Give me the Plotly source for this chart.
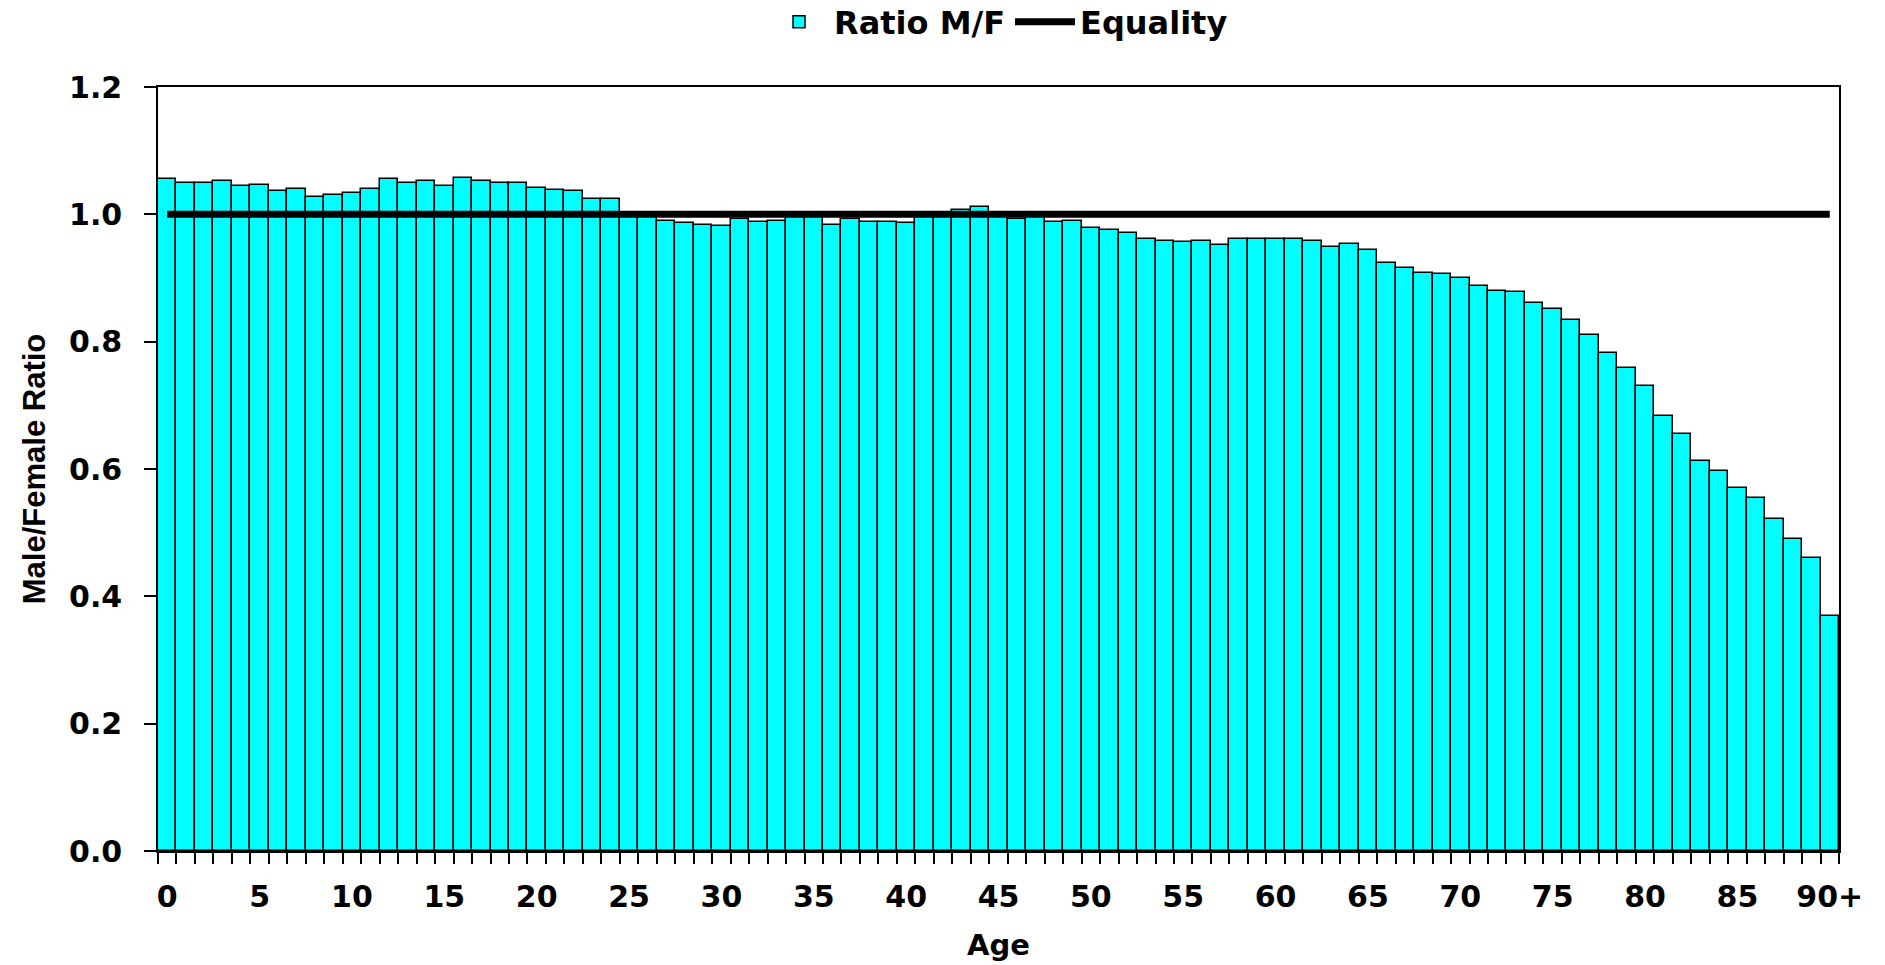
import plotly.graph_objects as go

ages = [str(a) for a in range(90)] + ["90+"]
ratio_mf = [
    1.056, 1.049, 1.050, 1.052, 1.044, 1.046, 1.037, 1.040, 1.027, 1.031,
    1.034, 1.040, 1.056, 1.050, 1.053, 1.044, 1.057, 1.052, 1.050, 1.050,
    1.041, 1.038, 1.037, 1.024, 1.024, 0.998, 0.997, 0.990, 0.987, 0.984,
    0.981, 0.993, 0.988, 0.990, 0.996, 0.996, 0.984, 0.992, 0.988, 0.988,
    0.986, 0.997, 0.998, 1.007, 1.012, 0.998, 0.992, 0.997, 0.988, 0.990,
    0.978, 0.976, 0.971, 0.961, 0.958, 0.956, 0.958, 0.952, 0.961, 0.961,
    0.961, 0.961, 0.958, 0.949, 0.953, 0.944, 0.924, 0.915, 0.908, 0.906,
    0.900, 0.887, 0.880, 0.878, 0.861, 0.851, 0.834, 0.811, 0.782, 0.758,
    0.730, 0.683, 0.655, 0.613, 0.597, 0.570, 0.554, 0.522, 0.490, 0.460,
    0.369,
]
equality = [1.0] * len(ages)
tick_text = [a if i % 5 == 0 else "" for i, a in enumerate(ages)]
y_ticks = [0.0, 0.2, 0.4, 0.6, 0.8, 1.0, 1.2]

FONT = "DejaVu Sans"

fig = go.Figure()
fig.add_trace(go.Bar(
    x=ages, y=ratio_mf, name="Ratio M/F",
    marker=dict(color="#00FFFF", line=dict(color="black", width=1.5)),
))
fig.add_trace(go.Scatter(
    x=ages, y=equality, name="Equality", mode="lines",
    line=dict(color="black", width=7),
))

fig.update_layout(
    width=1885, height=965,
    margin=dict(l=158, r=46, t=87, b=114, autoexpand=False),
    paper_bgcolor="white", plot_bgcolor="white",
    bargap=0,
    showlegend=True,
    legend=dict(
        orientation="h", x=0.5, xanchor="center", y=1.085, yanchor="middle",
        font=dict(family=FONT, size=32, color="black", weight="bold"),
        itemwidth=60, traceorder="normal",
    ),
    xaxis=dict(
        type="category", range=[-0.5, 90.5],
        tickmode="array", tickvals=ages, ticktext=tick_text, tickangle=0,
        tickson="boundaries", ticks="outside", ticklen=11, tickwidth=1.5,
        tickcolor="black",
        showline=True, linecolor="black", linewidth=1.5, mirror=True,
        showgrid=False, zeroline=False,
        tickfont=dict(family=FONT, size=30, color="black", weight="bold"),
        ticklabelstandoff=18,
        title=dict(text="Age", standoff=22,
                   font=dict(family=FONT, size=29, color="black", weight="bold")),
        automargin=False,
    ),
    yaxis=dict(
        range=[0, 1.2], tickmode="array", tickvals=y_ticks,
        tickformat=".1f",
        ticks="outside", ticklen=12, tickwidth=1.5, tickcolor="black",
        showline=True, linecolor="black", linewidth=1.5, mirror=True,
        showgrid=False, zeroline=False,
        tickfont=dict(family=FONT, size=30, color="black", weight="bold"),
        ticklabelstandoff=16,
        title=dict(text="Male/Female Ratio", standoff=14,
                   font=dict(family="Liberation Sans", size=31, color="black", weight="bold")),
        automargin=False,
    ),
)

fig.write_html("out.html", config={"displayModeBar": False},
               post_script="document.body.style.margin='0';")
